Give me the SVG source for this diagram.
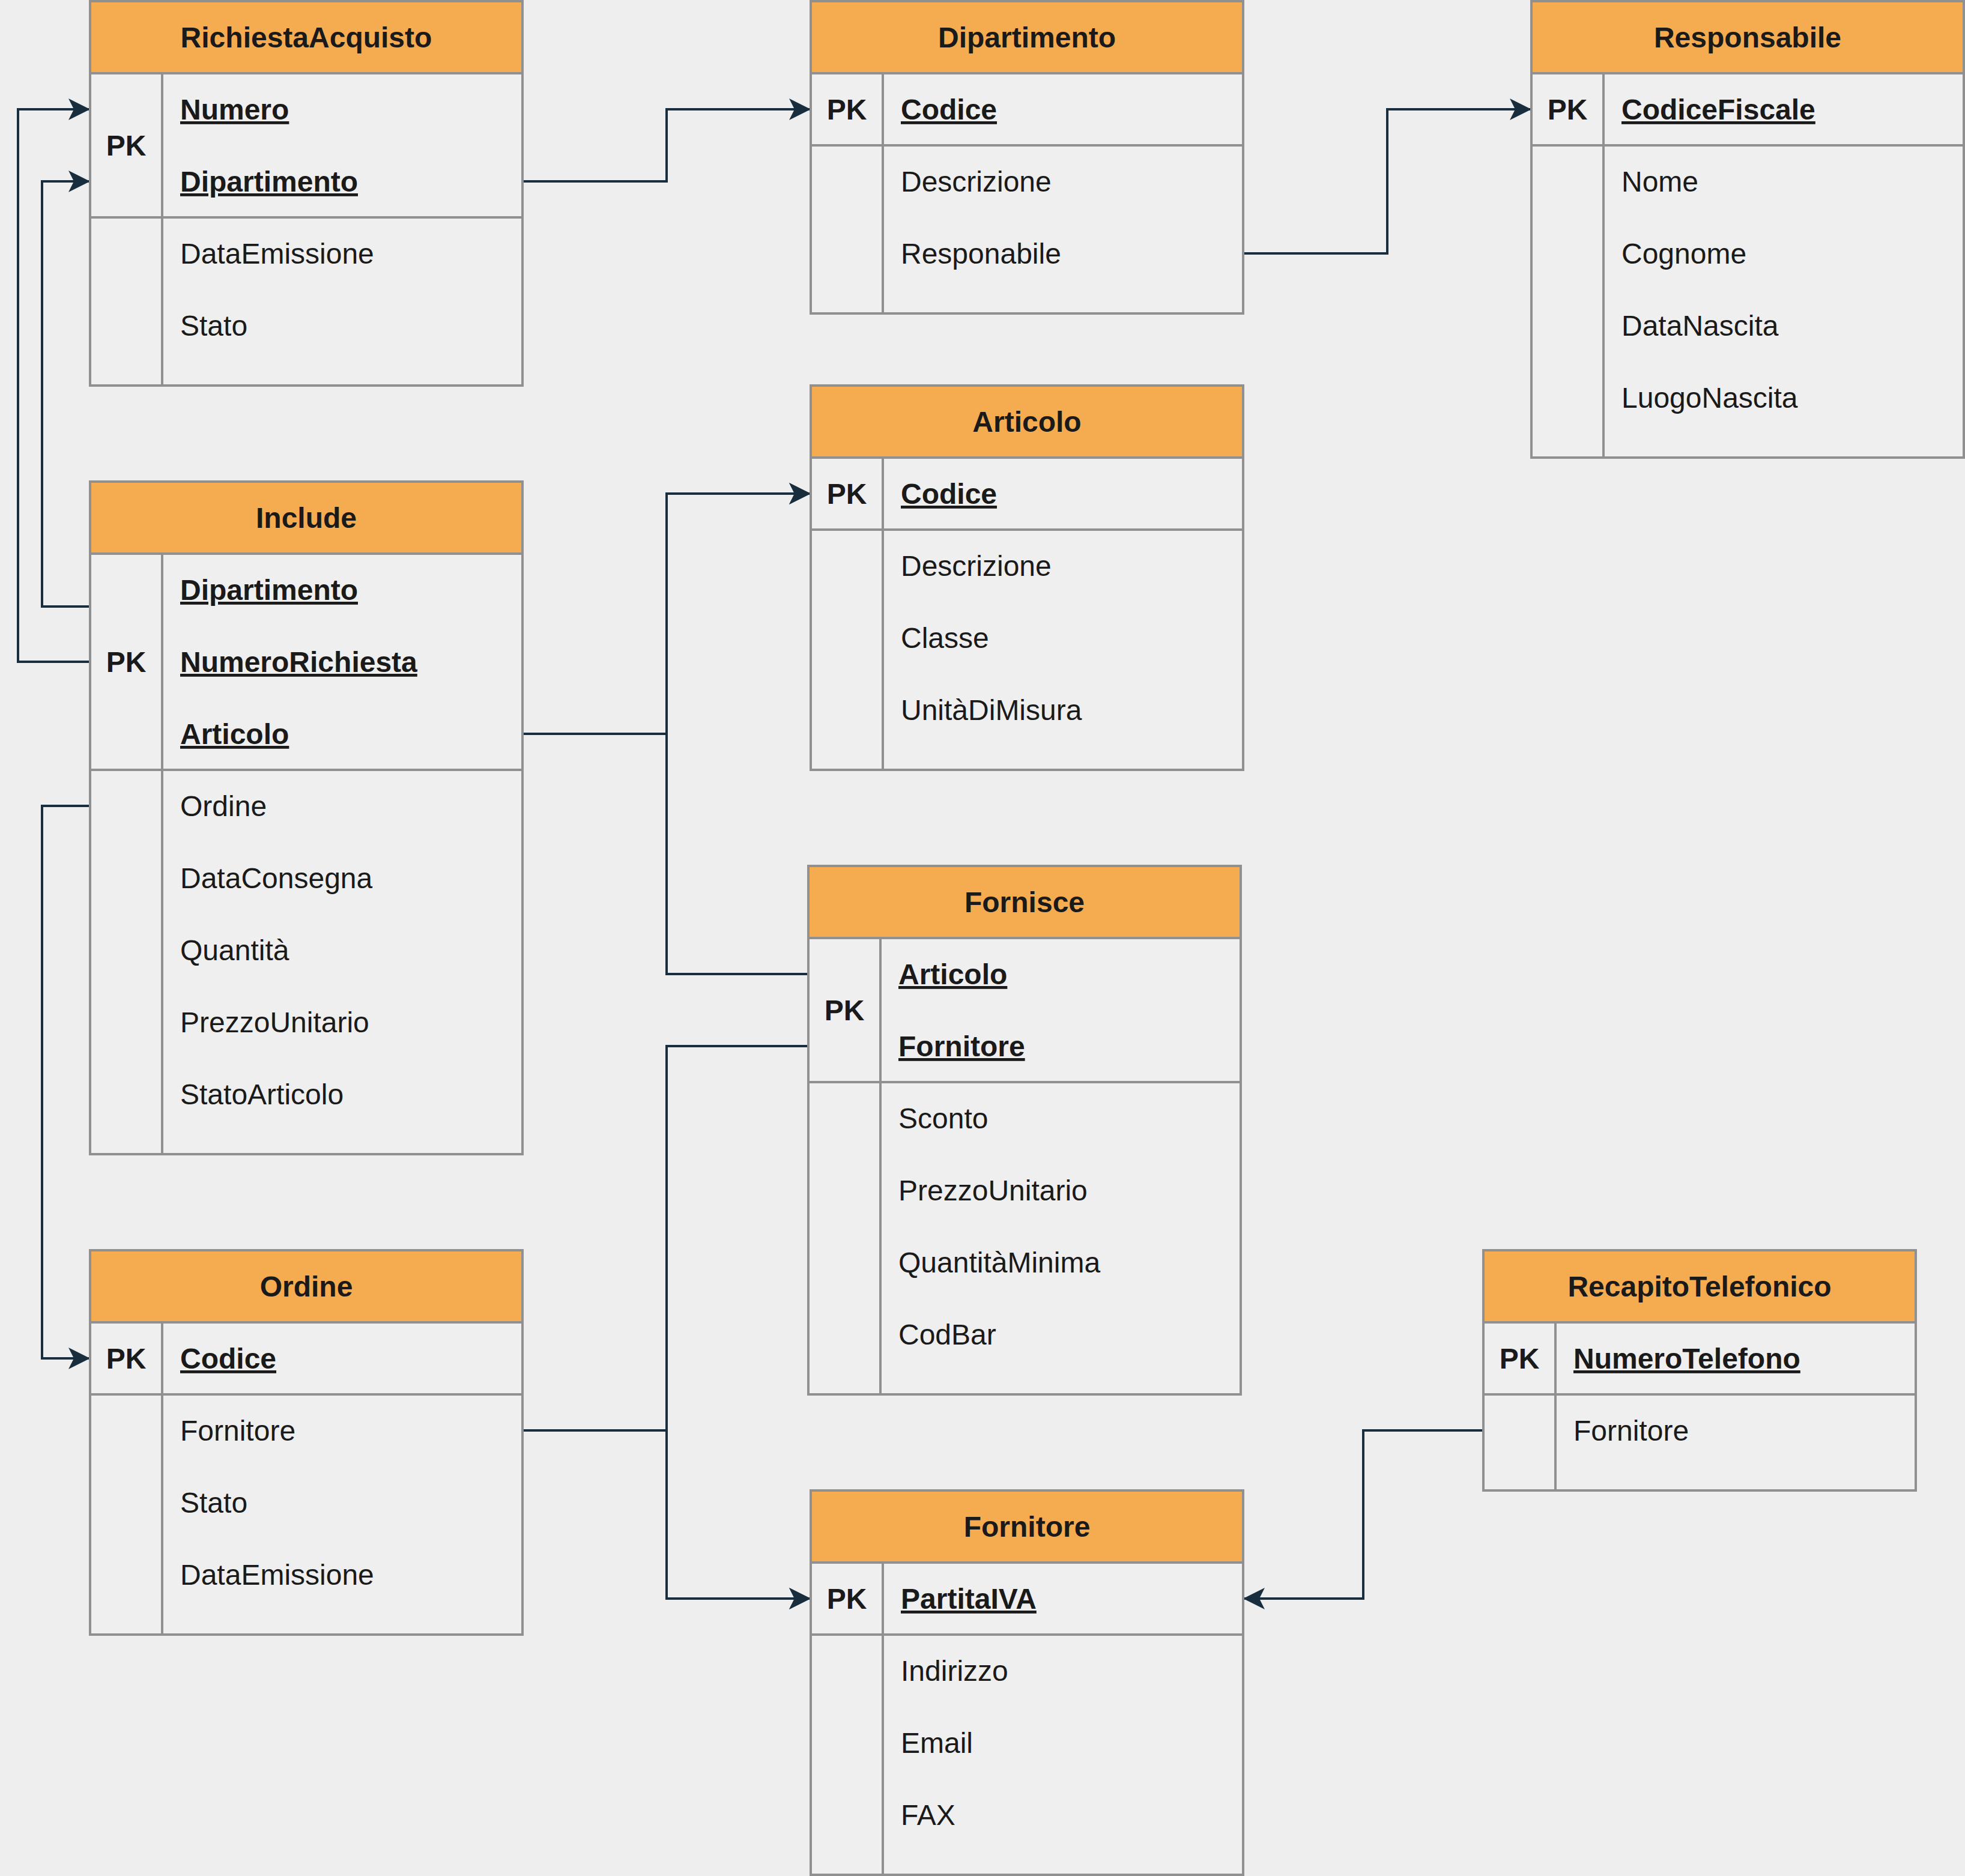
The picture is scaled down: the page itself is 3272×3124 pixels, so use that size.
<svg xmlns="http://www.w3.org/2000/svg" width="3272" height="3124" viewBox="0 0 3272 3124">
<style>
.bg{fill:#EEEEEE}
.body{fill:#EFEFEF;stroke:#909090;stroke-width:4}
.hdr{fill:#F5AB50;stroke:#909090;stroke-width:4}
.grid{stroke:#909090;stroke-width:4}
text{font-family:"Liberation Sans",Arial,Helvetica,sans-serif;font-size:48px;fill:#1A1A1A}
.title{font-weight:bold;text-anchor:middle}
.pk{font-weight:bold;text-anchor:middle}
.key{font-weight:bold;text-decoration:underline;text-decoration-thickness:2px;text-underline-offset:6px}
.conn{fill:none;stroke:#182E3E;stroke-width:4}
</style>
<defs>
<marker id="arr" markerUnits="userSpaceOnUse" markerWidth="40" markerHeight="40" refX="36" refY="18" orient="auto">
<path d="M0,0 L36,18 L0,36 L9,18 Z" fill="#182E3E"/>
</marker>
</defs>
<rect class="bg" x="0" y="0" width="3272" height="3124"/>

<g id="connectors">
<path class="conn" marker-end="url(#arr)" d="M870,302 H1110 V182 H1350"/>
<path class="conn" marker-end="url(#arr)" d="M2070,422 H2310 V182 H2550"/>
<path class="conn" marker-end="url(#arr)" d="M150,1010 H70 V302 H150"/>
<path class="conn" marker-end="url(#arr)" d="M150,1102 H30 V182 H150"/>
<path class="conn" marker-end="url(#arr)" d="M870,1222 H1110 V822 H1350"/>
<path class="conn" marker-end="url(#arr)" d="M1346,1622 H1110 V822 H1350"/>
<path class="conn" marker-end="url(#arr)" d="M150,1342 H70 V2262 H150"/>
<path class="conn" marker-end="url(#arr)" d="M1346,1742 H1110 V2662 H1350"/>
<path class="conn" marker-end="url(#arr)" d="M870,2382 H1110 V2662 H1350"/>
<path class="conn" marker-end="url(#arr)" d="M2470,2382 H2270 V2662 H2070"/>
</g>

<g id="RichiestaAcquisto">
<rect class="body" x="150" y="2" width="720" height="640"/>
<rect class="hdr" x="150" y="2" width="720" height="120"/>
<line class="grid" x1="270" y1="122" x2="270" y2="642"/>
<line class="grid" x1="150" y1="362" x2="870" y2="362"/>
<text class="title" x="510" y="79">RichiestaAcquisto</text>
<text class="pk" x="210" y="259">PK</text>
<text class="key" x="300" y="199">Numero</text>
<text class="key" x="300" y="319">Dipartimento</text>
<text x="300" y="439">DataEmissione</text>
<text x="300" y="559">Stato</text>
</g>

<g id="Dipartimento">
<rect class="body" x="1350" y="2" width="720" height="520"/>
<rect class="hdr" x="1350" y="2" width="720" height="120"/>
<line class="grid" x1="1470" y1="122" x2="1470" y2="522"/>
<line class="grid" x1="1350" y1="242" x2="2070" y2="242"/>
<text class="title" x="1710" y="79">Dipartimento</text>
<text class="pk" x="1410" y="199">PK</text>
<text class="key" x="1500" y="199">Codice</text>
<text x="1500" y="319">Descrizione</text>
<text x="1500" y="439">Responabile</text>
</g>

<g id="Responsabile">
<rect class="body" x="2550" y="2" width="720" height="760"/>
<rect class="hdr" x="2550" y="2" width="720" height="120"/>
<line class="grid" x1="2670" y1="122" x2="2670" y2="762"/>
<line class="grid" x1="2550" y1="242" x2="3270" y2="242"/>
<text class="title" x="2910" y="79">Responsabile</text>
<text class="pk" x="2610" y="199">PK</text>
<text class="key" x="2700" y="199">CodiceFiscale</text>
<text x="2700" y="319">Nome</text>
<text x="2700" y="439">Cognome</text>
<text x="2700" y="559">DataNascita</text>
<text x="2700" y="679">LuogoNascita</text>
</g>

<g id="Articolo">
<rect class="body" x="1350" y="642" width="720" height="640"/>
<rect class="hdr" x="1350" y="642" width="720" height="120"/>
<line class="grid" x1="1470" y1="762" x2="1470" y2="1282"/>
<line class="grid" x1="1350" y1="882" x2="2070" y2="882"/>
<text class="title" x="1710" y="719">Articolo</text>
<text class="pk" x="1410" y="839">PK</text>
<text class="key" x="1500" y="839">Codice</text>
<text x="1500" y="959">Descrizione</text>
<text x="1500" y="1079">Classe</text>
<text x="1500" y="1199">UnitàDiMisura</text>
</g>

<g id="Include">
<rect class="body" x="150" y="802" width="720" height="1120"/>
<rect class="hdr" x="150" y="802" width="720" height="120"/>
<line class="grid" x1="270" y1="922" x2="270" y2="1922"/>
<line class="grid" x1="150" y1="1282" x2="870" y2="1282"/>
<text class="title" x="510" y="879">Include</text>
<text class="pk" x="210" y="1119">PK</text>
<text class="key" x="300" y="999">Dipartimento</text>
<text class="key" x="300" y="1119">NumeroRichiesta</text>
<text class="key" x="300" y="1239">Articolo</text>
<text x="300" y="1359">Ordine</text>
<text x="300" y="1479">DataConsegna</text>
<text x="300" y="1599">Quantità</text>
<text x="300" y="1719">PrezzoUnitario</text>
<text x="300" y="1839">StatoArticolo</text>
</g>

<g id="Fornisce">
<rect class="body" x="1346" y="1442" width="720" height="880"/>
<rect class="hdr" x="1346" y="1442" width="720" height="120"/>
<line class="grid" x1="1466" y1="1562" x2="1466" y2="2322"/>
<line class="grid" x1="1346" y1="1802" x2="2066" y2="1802"/>
<text class="title" x="1706" y="1519">Fornisce</text>
<text class="pk" x="1406" y="1699">PK</text>
<text class="key" x="1496" y="1639">Articolo</text>
<text class="key" x="1496" y="1759">Fornitore</text>
<text x="1496" y="1879">Sconto</text>
<text x="1496" y="1999">PrezzoUnitario</text>
<text x="1496" y="2119">QuantitàMinima</text>
<text x="1496" y="2239">CodBar</text>
</g>

<g id="Ordine">
<rect class="body" x="150" y="2082" width="720" height="640"/>
<rect class="hdr" x="150" y="2082" width="720" height="120"/>
<line class="grid" x1="270" y1="2202" x2="270" y2="2722"/>
<line class="grid" x1="150" y1="2322" x2="870" y2="2322"/>
<text class="title" x="510" y="2159">Ordine</text>
<text class="pk" x="210" y="2279">PK</text>
<text class="key" x="300" y="2279">Codice</text>
<text x="300" y="2399">Fornitore</text>
<text x="300" y="2519">Stato</text>
<text x="300" y="2639">DataEmissione</text>
</g>

<g id="RecapitoTelefonico">
<rect class="body" x="2470" y="2082" width="720" height="400"/>
<rect class="hdr" x="2470" y="2082" width="720" height="120"/>
<line class="grid" x1="2590" y1="2202" x2="2590" y2="2482"/>
<line class="grid" x1="2470" y1="2322" x2="3190" y2="2322"/>
<text class="title" x="2830" y="2159">RecapitoTelefonico</text>
<text class="pk" x="2530" y="2279">PK</text>
<text class="key" x="2620" y="2279">NumeroTelefono</text>
<text x="2620" y="2399">Fornitore</text>
</g>

<g id="Fornitore">
<rect class="body" x="1350" y="2482" width="720" height="640"/>
<rect class="hdr" x="1350" y="2482" width="720" height="120"/>
<line class="grid" x1="1470" y1="2602" x2="1470" y2="3122"/>
<line class="grid" x1="1350" y1="2722" x2="2070" y2="2722"/>
<text class="title" x="1710" y="2559">Fornitore</text>
<text class="pk" x="1410" y="2679">PK</text>
<text class="key" x="1500" y="2679">PartitaIVA</text>
<text x="1500" y="2799">Indirizzo</text>
<text x="1500" y="2919">Email</text>
<text x="1500" y="3039">FAX</text>
</g>
</svg>
